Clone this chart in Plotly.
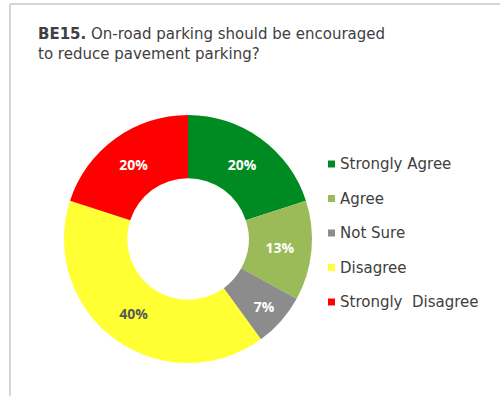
import plotly.graph_objects as go

# Survey responses for BE15
labels = ["Strongly Agree", "Agree", "Not Sure", "Disagree", "Strongly  Disagree"]
values = [20, 13, 7, 40, 20]
colors = ["#008a22", "#9bbb59", "#8c8c8c", "#ffff33", "#ff0000"]
text_colors = ["#ffffff", "#ffffff", "#ffffff", "#595959", "#ffffff"]

W, H = 500, 396
cx, cy, r = 188, 239, 124  # donut centre and radius in pixels (from top-left)

fig = go.Figure()
fig.add_trace(go.Pie(
    labels=labels,
    values=values,
    hole=0.49,
    sort=False,
    direction="clockwise",
    rotation=0,
    marker=dict(colors=colors, line=dict(width=0)),
    texttemplate="<b>%{value}%</b>",
    textposition="inside",
    insidetextorientation="horizontal",
    textfont=dict(family="Open Sans", size=14, color=text_colors),
    showlegend=False,
    domain=dict(x=[(cx - r) / W, (cx + r) / W],
                y=[(H - cy - r) / H, (H - cy + r) / H]),
))

shapes = [
    # frame lines
    dict(type="line", xref="paper", yref="paper", x0=10 / W, x1=1, y0=1 - 4 / H, y1=1 - 4 / H,
         line=dict(color="#c8c8c8", width=1.5)),
    dict(type="line", xref="paper", yref="paper", x0=10 / W, x1=10 / W, y0=0, y1=1 - 4 / H,
         line=dict(color="#c8c8c8", width=1.5)),
]
annotations = [
    dict(text="<b>BE15.</b> On-road parking should be encouraged<br>to reduce pavement parking?",
         xref="paper", yref="paper", x=36 / W, y=1 - 23 / H, xanchor="left", yanchor="top",
         align="left", showarrow=False,
         font=dict(family="DejaVu Sans", size=15, color="#404040")),
]

# legend built as coloured squares with labels
leg_y0, leg_dy = 164, 34.5
for i, (lab, col) in enumerate(zip(labels, colors)):
    yc = leg_y0 + i * leg_dy
    shapes.append(dict(type="rect", xref="paper", yref="paper",
                       x0=328 / W, x1=335 / W, y0=1 - (yc + 3.5) / H, y1=1 - (yc - 3.5) / H,
                       fillcolor=col, line=dict(width=0)))
    annotations.append(dict(text=lab, xref="paper", yref="paper", x=338 / W, y=1 - yc / H,
                            xanchor="left", yanchor="middle", showarrow=False,
                            font=dict(family="DejaVu Sans", size=15, color="#404040")))

fig.update_layout(
    width=W, height=H,
    margin=dict(l=0, r=0, t=0, b=0),
    paper_bgcolor="white", plot_bgcolor="white",
    shapes=shapes, annotations=annotations,
)

fig.write_html("out.html")
